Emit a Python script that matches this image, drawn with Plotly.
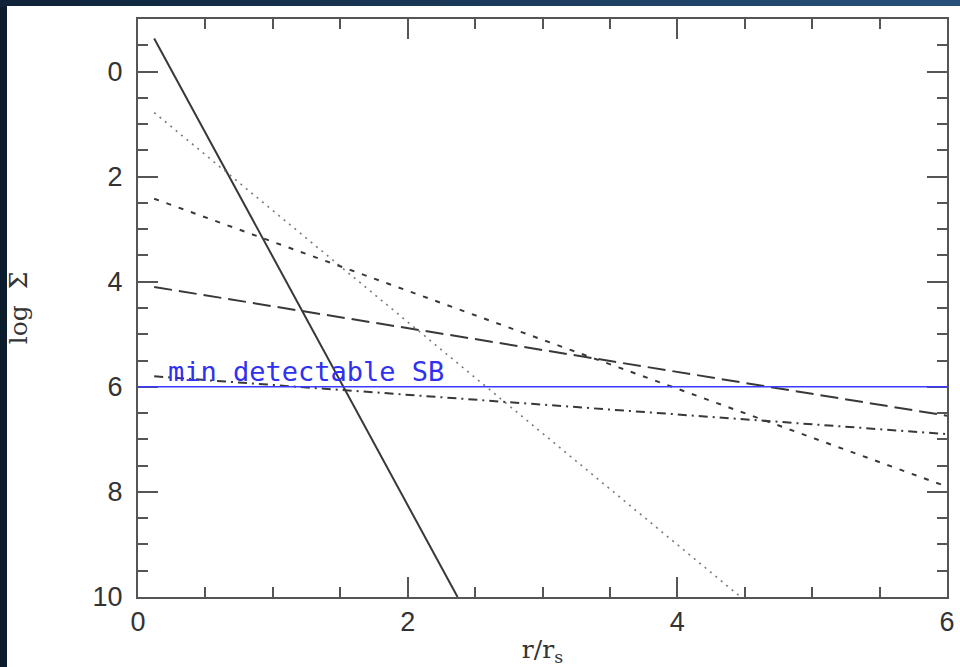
import plotly.graph_objects as go

# Surface-brightness profiles: straight lines in log Sigma vs r/r_s,
# each given by its two end points.
r_solid = [0.12, 2.37]
logS_solid = [-0.63, 10.0]

r_dotted = [0.12, 4.47]
logS_dotted = [0.78, 10.0]

r_short = [0.12, 6.0]
logS_short = [2.42, 7.9]

r_long = [0.12, 6.0]
logS_long = [4.1, 6.55]

r_dashdot = [0.12, 6.0]
logS_dashdot = [5.8, 6.9]

# Detection limit
r_limit = [0.0, 6.0]
logS_limit = [6.0, 6.0]
limit_label = "min detectable SB"

x_ticks = [0, 2, 4, 6]
y_ticks = [0, 2, 4, 6, 8, 10]

W, H = 960, 667
ML, MR, MT, MB = 138, 13, 19, 70
PW, PH = W - ML - MR, H - MT - MB


def px(xpix):
    return (xpix - ML) / PW


def py(ypix):
    return (H - MB - ypix) / PH


fig = go.Figure()

line_col = "#383838"
fig.add_trace(go.Scatter(x=r_solid, y=logS_solid, mode="lines",
                         line=dict(color=line_col, width=2)))
fig.add_trace(go.Scatter(x=r_dotted, y=logS_dotted, mode="lines",
                         line=dict(color="#7a7a7a", width=1.6, dash="2px,5px")))
fig.add_trace(go.Scatter(x=r_short, y=logS_short, mode="lines",
                         line=dict(color=line_col, width=2, dash="5px,8px")))
fig.add_trace(go.Scatter(x=r_long, y=logS_long, mode="lines",
                         line=dict(color=line_col, width=2, dash="18px,7px")))
fig.add_trace(go.Scatter(x=r_dashdot, y=logS_dashdot, mode="lines",
                         line=dict(color=line_col, width=2, dash="9px,5px,2px,5px")))
fig.add_trace(go.Scatter(x=r_limit, y=logS_limit, mode="lines",
                         line=dict(color="#3b3bff", width=1.6)))

fig.add_annotation(x=0.21, y=6, xref="x", yref="y", text=limit_label,
                   showarrow=False, xanchor="left", yanchor="bottom", yshift=-2,
                   font=dict(family="DejaVu Sans Mono", size=27, color="#3030f0"))

# Dark textured surround: a plain dark page, a blue gradient strip along the top,
# and the white sheet the plot sits on.
shapes = []
n_strip = 24
for i in range(n_strip):
    t = i / (n_strip - 1)
    r = int(15 + t * (38 - 15))
    g = int(36 + t * (80 - 36))
    b = int(58 + t * (122 - 58))
    shapes.append(dict(type="rect", xref="paper", yref="paper", layer="below",
                       x0=px(W * i / n_strip), x1=px(W * (i + 1) / n_strip + 1),
                       y0=py(7), y1=py(-2), line=dict(width=0),
                       fillcolor=f"rgb({r},{g},{b})"))
shapes.append(dict(type="rect", xref="paper", yref="paper", layer="below",
                   x0=px(7), x1=px(W + 2), y0=py(H + 2), y1=py(6),
                   line=dict(width=0), fillcolor="white"))

axis_col = "#555555"
common = dict(showline=True, linecolor=axis_col, linewidth=2, mirror="allticks",
              ticks="inside", ticklen=20, tickwidth=2, tickcolor=axis_col,
              showgrid=False, zeroline=False, automargin=False,
              layer="below traces",
              tickfont=dict(family="Liberation Sans", size=27, color="#333333"),
              title_font=dict(family="DejaVu Serif", size=25, color="#333333"))

fig.update_xaxes(range=[0, 6], tickvals=x_ticks,
                 minor=dict(dtick=0.5, tick0=0, ticks="inside", ticklen=10,
                            tickwidth=2, tickcolor=axis_col, showgrid=False),
                 title_text="r/r<sub>s</sub>", title_standoff=4, **common)
fig.update_yaxes(range=[10, -1], tickvals=y_ticks,
                 minor=dict(dtick=0.5, tick0=0, ticks="inside", ticklen=10,
                            tickwidth=2, tickcolor=axis_col, showgrid=False),
                 title_text="log  Σ", title_standoff=58, ticklabelstandoff=8,
                 **common)

fig.update_layout(width=W, height=H, showlegend=False,
                  margin=dict(l=ML, r=MR, t=MT, b=MB),
                  paper_bgcolor="#0b1c2d", plot_bgcolor="white",
                  shapes=shapes)

fig.write_html("out.html")
